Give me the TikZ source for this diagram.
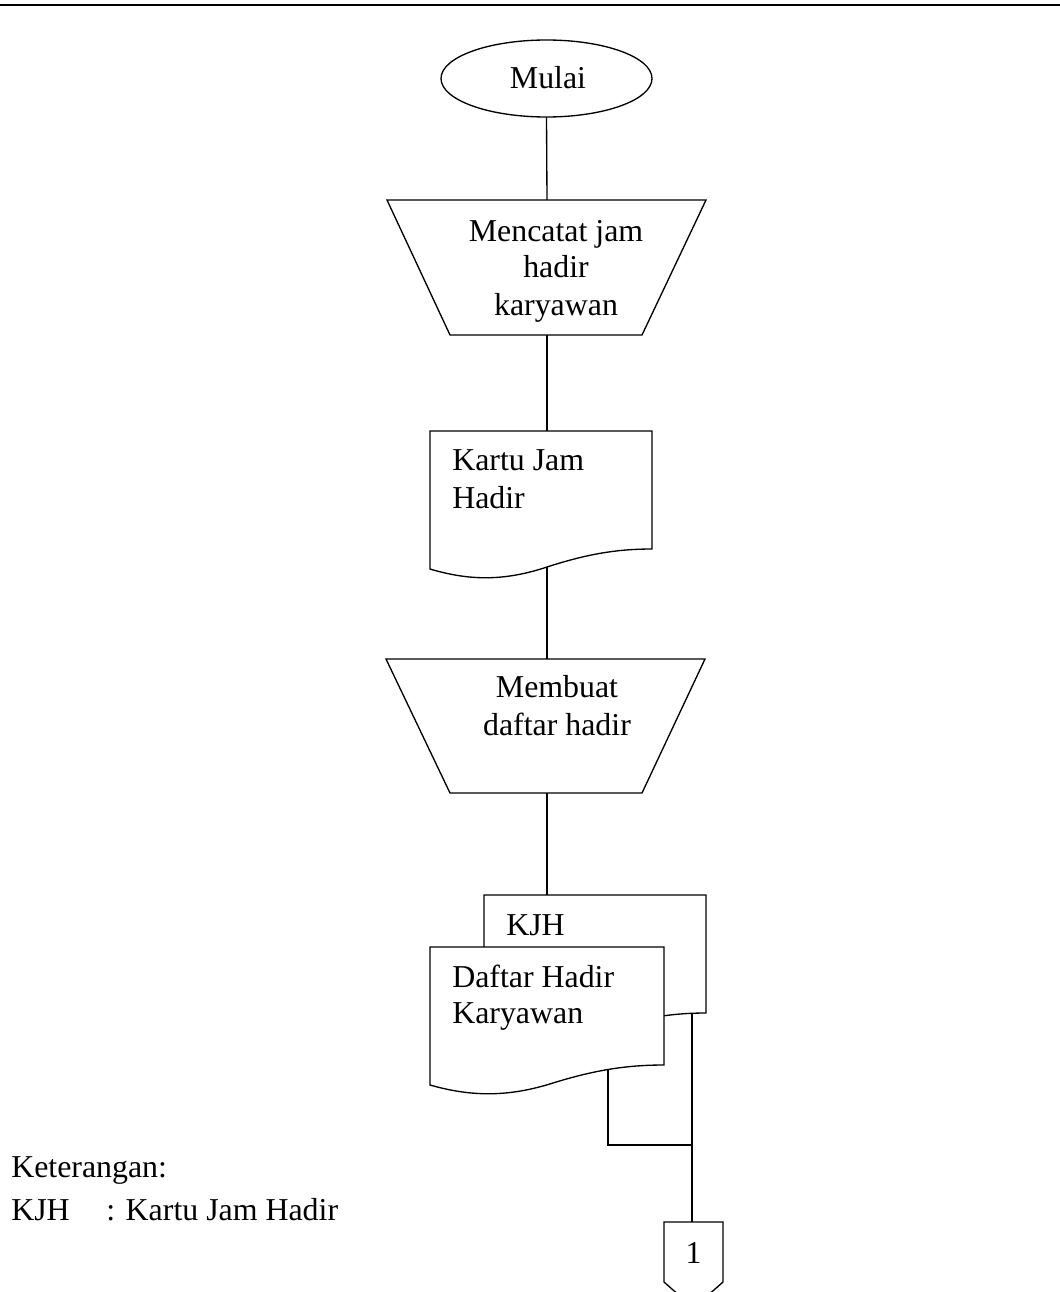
\documentclass[tikz,border=0pt]{standalone}
\usepackage{fontspec}
\setmainfont{Liberation Serif}
\usetikzlibrary{shapes.geometric}
\begin{document}
\begin{tikzpicture}[x=0.75pt,y=-0.75pt,
  shp/.style={draw, line width=1pt, fill=white},
  conn/.style={draw, line width=1pt},
  lbl/.style={inner sep=0pt, anchor=base, font=\fontsize{23.9pt}{28.5pt}\selectfont},
  lbll/.style={lbl, anchor=base west}]
\useasboundingbox (0,0) rectangle (1060,1292);
\clip (0,0) rectangle (1060,1292);
% top rule
\draw[line width=1.5pt] (0,5) -- (1060,5);

% attachment points
\coordinate (eBot) at (546.5,117);
\coordinate (t1Top) at (547,200);
\coordinate (t1Bot) at (547,335);
\coordinate (d1Top) at (547,431);
\coordinate (d1Wave) at (547,567);
\coordinate (t2Top) at (547,659);
\coordinate (t2Bot) at (547,793);
\coordinate (bdTop) at (547,895);
\coordinate (bdWave) at (692,1014);
\coordinate (fdWave) at (608,1070);
\coordinate (jn1) at (608,1145);
\coordinate (jn2) at (692,1145);
\coordinate (ocTop) at (692,1222);

% connectors
\path[conn] (eBot) -- (t1Top);
\path[conn] (t1Bot) -- (d1Top);
\path[conn] (d1Wave) -- (t2Top);
\path[conn] (t2Bot) -- (bdTop);
\path[conn] (fdWave) -- (jn1) -- (jn2);
\path[conn] (bdWave) -- (ocTop);

% start
\node[shp, ellipse, minimum width=158.25pt, minimum height=57.75pt, inner sep=0pt] (start) at (546.5,78.5) {};
\node[lbl] (tStart) at (548,88) {Mulai};

% manual operation 1
\draw[shp] (387,200) -- (706,200) -- (642,335) -- (450,335) -- cycle;
\node[lbl] (t1a) at (556,241) {Mencatat jam};
\node[lbl] (t1b) at (556,277) {hadir};
\node[lbl] (t1c) at (556,315) {karyawan};

% document 1
\draw[shp] (430,569) -- (430,431) -- (652,431) -- (652,549)
  .. controls (620,549) and (590,553) .. (547,567)
  .. controls (505,581) and (470,581) .. (430,569) -- cycle;
\node[lbll] (d1a) at (452,470) {Kartu Jam};
\node[lbll] (d1b) at (452,508) {Hadir};

% manual operation 2
\draw[shp] (386,659) -- (705,659) -- (642,793) -- (450,793) -- cycle;
\node[lbl] (t2a) at (557,697) {Membuat};
\node[lbl] (t2b) at (557,735) {daftar hadir};

% back document (KJH)
\draw[shp] (484,1033) -- (484,895) -- (706,895) -- (706,1013)
  .. controls (674,1013) and (644,1017) .. (601,1031)
  .. controls (559,1045) and (524,1045) .. (484,1033) -- cycle;
\node[lbll] (bdt) at (506,935) {KJH};

% front document
\draw[shp] (430,1085) -- (430,947) -- (664,947) -- (664,1065)
  .. controls (630,1065) and (598,1069) .. (553,1083)
  .. controls (509,1097) and (472,1097) .. (430,1085) -- cycle;
\node[lbll] (fda) at (452,987) {Daftar Hadir};
\node[lbll] (fdb) at (452,1023) {Karyawan};

% off-page connector
\draw[shp] (664,1222) -- (723,1222) -- (723,1282) -- (693.5,1308) -- (664,1282) -- cycle;
\node[lbl] (oc) at (693.5,1263) {1};

% legend
\node[lbll] (k1) at (11,1177) {Keterangan:};
\node[lbll] (k2) at (11,1220) {KJH};
\node[lbll] (k3) at (106,1220) {: Kartu Jam Hadir};
\end{tikzpicture}
\end{document}
